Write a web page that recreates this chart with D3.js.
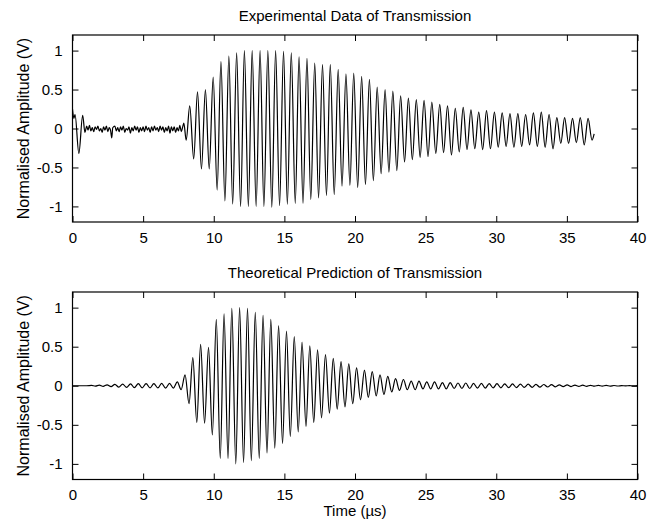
<!DOCTYPE html>
<html><head><meta charset="utf-8">
<script src="https://cdn.jsdelivr.net/npm/d3@7"></script>
<style>
body{margin:0;background:#fff}
svg text{font-family:"Liberation Sans",Arial,Helvetica,sans-serif;fill:#000}
</style>
</head><body>
<svg id="chart" width="657" height="522"></svg>
<script>
// ---------- tick labels ----------
const xTickValues = [0, 5, 10, 15, 20, 25, 30, 35, 40];
const xTickLabels = ["0", "5", "10", "15", "20", "25", "30", "35", "40"];
const yTickValues = [-1, -0.5, 0, 0.5, 1];
const yTickLabels = ["-1", "-0.5", "0", "0.5", "1"];
const titles = ["Experimental Data of Transmission", "Theoretical Prediction of Transmission"];
const yLabel = "Normalised Amplitude (V)";
const xLabel = "Time (\u00b5s)";

// ---------- experimental trace (µs, V) ----------
// lead-in ringing and noise floor before the burst
const expLeadT = [0, 0.10, 0.18, 0.45, 0.72, 0.88,
  1.0, 1.1, 1.2, 1.3, 1.4, 1.5, 1.6, 1.7, 1.8, 1.9, 2.0, 2.1, 2.2, 2.3, 2.4, 2.5, 2.6, 2.7, 2.78, 2.85,
  3.0, 3.1, 3.2, 3.3, 3.4, 3.5, 3.6, 3.7, 3.8, 3.9, 4.0, 4.1, 4.2, 4.3, 4.4, 4.5, 4.6, 4.7, 4.8, 4.9,
  5.0, 5.1, 5.2, 5.3, 5.4, 5.5, 5.6, 5.7, 5.8, 5.9, 6.0, 6.1, 6.2, 6.3, 6.4, 6.5, 6.6, 6.7, 6.8, 6.9,
  7.0, 7.1, 7.2, 7.3, 7.4, 7.5, 7.6, 7.7, 7.8, 7.88, 8.05];
const expLeadV = [0.25, 0.13, 0.18, -0.32, 0.17, -0.05,
  0.03, -0.02, 0.04, -0.03, 0.01, -0.04, 0.02, -0.01, 0.03, -0.03, 0.00, -0.05, 0.02, -0.02, 0.03, -0.04, 0.01, -0.03, -0.12, 0.01,
  0.03, -0.03, 0.01, -0.04, 0.02, -0.02, 0.03, -0.05, 0.00, -0.02, 0.02, -0.06, 0.01, -0.03, 0.03, -0.02, 0.02, -0.05, 0.01, -0.03,
  0.02, -0.04, 0.03, -0.02, 0.01, -0.05, 0.02, -0.03, 0.03, -0.02, 0.01, -0.04, 0.03, -0.02, 0.02, -0.05, 0.01, -0.03, 0.03, -0.06,
  0.02, -0.03, 0.02, -0.05, 0.01, -0.03, 0.04, -0.04, 0.02, 0.07, -0.15];
// positive peaks of the burst
const expMaxT = [8.30, 8.85, 9.41, 9.96, 10.51, 11.07, 11.62, 12.17, 12.72, 13.28, 13.83, 14.38, 14.94, 15.49, 16.04, 16.60,
  17.15, 17.70, 18.25, 18.81, 19.36, 19.91, 20.47, 21.02, 21.57, 22.13, 22.68, 23.23, 23.78, 24.34, 24.89, 25.44,
  26.00, 26.55, 27.10, 27.66, 28.21, 28.76, 29.31, 29.87, 30.42, 30.97, 31.53, 32.08, 32.63, 33.19, 33.74, 34.29,
  34.84, 35.40, 35.95, 36.50];
const expMaxV = [0.29, 0.47, 0.50, 0.66, 0.86, 0.93, 0.97, 1.00, 1.00, 1.00, 1.00, 1.00, 0.99, 0.97, 0.92, 0.90,
  0.84, 0.82, 0.82, 0.76, 0.70, 0.71, 0.67, 0.63, 0.53, 0.50, 0.48, 0.42, 0.39, 0.37, 0.36, 0.34,
  0.31, 0.29, 0.26, 0.27, 0.24, 0.21, 0.23, 0.21, 0.20, 0.19, 0.19, 0.18, 0.20, 0.21, 0.18, 0.14,
  0.14, 0.13, 0.14, 0.13];
// negative peaks of the burst
const expMinT = [8.58, 9.13, 9.68, 10.24, 10.79, 11.34, 11.90, 12.45, 13.00, 13.55, 14.11, 14.66, 15.21, 15.77, 16.32, 16.87,
  17.42, 17.98, 18.53, 19.08, 19.64, 20.19, 20.74, 21.30, 21.85, 22.40, 22.96, 23.51, 24.06, 24.61, 25.17, 25.72,
  26.27, 26.83, 27.38, 27.93, 28.48, 29.04, 29.59, 30.14, 30.70, 31.25, 31.80, 32.36, 32.91, 33.46, 34.02, 34.57,
  35.12, 35.67, 36.23, 36.78];
const expMinV = [-0.39, -0.52, -0.52, -0.79, -0.93, -0.97, -1.00, -1.00, -1.00, -1.00, -1.01, -0.99, -0.97, -0.96, -0.96, -0.91,
  -0.89, -0.86, -0.85, -0.74, -0.73, -0.76, -0.72, -0.67, -0.58, -0.56, -0.54, -0.43, -0.40, -0.37, -0.36, -0.32,
  -0.31, -0.34, -0.30, -0.27, -0.26, -0.27, -0.26, -0.24, -0.23, -0.24, -0.23, -0.21, -0.23, -0.24, -0.26, -0.19,
  -0.19, -0.18, -0.21, -0.15];
const expEndT = [36.93];
const expEndV = [-0.07];

// ---------- theoretical trace (µs, V) ----------
const theoLeadT = [0, 1.0];
const theoLeadV = [0, 0];
const theoMaxT = [1.35, 1.90, 2.45, 3.00, 3.55, 4.11, 4.66, 5.21, 5.76, 6.31, 6.87, 7.42,
  7.97, 8.52, 9.07, 9.63, 10.18, 10.73, 11.28, 11.83, 12.39, 12.94, 13.49, 14.04, 14.59, 15.15, 15.70, 16.25,
  16.80, 17.35, 17.91, 18.46, 19.01, 19.56, 20.11, 20.67, 21.22, 21.77, 22.32, 22.87, 23.43, 23.98, 24.53, 25.08,
  25.63, 26.19, 26.74, 27.29, 27.84, 28.39, 28.95, 29.50, 30.05, 30.60, 31.15, 31.71, 32.26, 32.81, 33.36, 33.91,
  34.47, 35.02, 35.57, 36.12, 36.67, 37.23, 37.78, 38.33, 38.88, 39.43, 39.99];
const theoMaxV = [0.004, 0.008, 0.012, 0.018, 0.022, 0.025, 0.027, 0.028, 0.028, 0.030, 0.030, 0.050,
  0.14, 0.36, 0.53, 0.49, 0.85, 0.92, 0.99, 1.00, 0.99, 0.94, 0.90, 0.85, 0.77, 0.70, 0.63, 0.56,
  0.51, 0.46, 0.40, 0.35, 0.31, 0.28, 0.23, 0.20, 0.18, 0.14, 0.12, 0.09, 0.08, 0.06, 0.06, 0.05,
  0.05, 0.04, 0.04, 0.035, 0.035, 0.030, 0.030, 0.028, 0.026, 0.025, 0.023, 0.021, 0.020, 0.018, 0.016, 0.014,
  0.012, 0.010, 0.008, 0.007, 0.006, 0.005, 0.004, 0.003, 0.002, 0.002, 0.001];
const theoMinT = [1.62, 2.17, 2.73, 3.28, 3.83, 4.38, 4.93, 5.49, 6.04, 6.59, 7.14, 7.69,
  8.25, 8.80, 9.35, 9.90, 10.46, 11.01, 11.56, 12.11, 12.66, 13.22, 13.77, 14.32, 14.87, 15.42, 15.98, 16.53,
  17.08, 17.63, 18.19, 18.74, 19.29, 19.84, 20.39, 20.94, 21.50, 22.05, 22.60, 23.15, 23.70, 24.26, 24.81, 25.36,
  25.91, 26.46, 27.02, 27.57, 28.12, 28.67, 29.22, 29.78, 30.33, 30.88, 31.43, 31.98, 32.54, 33.09, 33.64, 34.19,
  34.74, 35.30, 35.85, 36.40, 36.95, 37.50, 38.06, 38.61, 39.16, 39.71];
const theoMinV = [-0.004, -0.008, -0.012, -0.018, -0.022, -0.025, -0.027, -0.028, -0.028, -0.030, -0.030, -0.050,
  -0.23, -0.47, -0.48, -0.63, -0.93, -0.93, -1.00, -0.98, -0.96, -0.93, -0.86, -0.80, -0.74, -0.65, -0.59, -0.52,
  -0.47, -0.41, -0.35, -0.30, -0.27, -0.23, -0.18, -0.15, -0.13, -0.11, -0.08, -0.06, -0.05, -0.05, -0.04, -0.04,
  -0.04, -0.04, -0.035, -0.035, -0.035, -0.030, -0.030, -0.028, -0.026, -0.025, -0.023, -0.021, -0.020, -0.018, -0.016, -0.014,
  -0.012, -0.010, -0.008, -0.007, -0.006, -0.005, -0.004, -0.003, -0.002, -0.002];
const theoEndT = [40];
const theoEndV = [0];

// ---------- build point lists ----------
function zipPts(ts, vs) { return ts.map((t, i) => ({ t: t, v: vs[i] })); }
function buildSeries(parts) {
  const pts = [];
  parts.forEach(p => pts.push(...zipPts(p[0], p[1])));
  return pts.sort((a, b) => a.t - b.t);
}
const expSeries = buildSeries([[expLeadT, expLeadV], [expMaxT, expMaxV], [expMinT, expMinV], [expEndT, expEndV]]);
const theoSeries = buildSeries([[theoLeadT, theoLeadV], [theoMaxT, theoMaxV], [theoMinT, theoMinV], [theoEndT, theoEndV]]);

// ---------- drawing ----------
const svg = d3.select("#chart");
const FS = 15;
const FS_YLABEL = 16;
const left = 72.5, right = 637.5;
const panels = [
  { top: 35, bottom: 222, title: titles[0], data: expSeries },
  { top: 292, bottom: 479.5, title: titles[1], data: theoSeries }
];

panels.forEach((p, idx) => {
  const x = d3.scaleLinear().domain([0, 40]).range([left, right]);
  const y = d3.scaleLinear().domain([-1.2, 1.2]).range([p.bottom, p.top]);
  const g = svg.append("g");

  const cid = "clip" + idx;
  svg.append("clipPath").attr("id", cid).append("rect")
    .attr("x", left).attr("y", p.top).attr("width", right - left).attr("height", p.bottom - p.top);

  const line = d3.line().x(d => x(d.t)).y(d => y(d.v)).curve(d3.curveMonotoneX);
  g.append("path").datum(p.data).attr("d", line)
    .attr("clip-path", "url(#" + cid + ")")
    .attr("fill", "none").attr("stroke", "#000").attr("stroke-width", 1.2);

  const tl = 6;
  const axB = d3.axisBottom(x).tickValues(xTickValues).tickSizeInner(-tl).tickSizeOuter(0)
    .tickPadding(10).tickFormat((d, i) => xTickLabels[i]);
  const axT = d3.axisTop(x).tickValues(xTickValues).tickSizeInner(-tl).tickSizeOuter(0).tickFormat("");
  const axL = d3.axisLeft(y).tickValues(yTickValues).tickSizeInner(-tl).tickSizeOuter(0)
    .tickPadding(10).tickFormat((d, i) => yTickLabels[i]);
  const axR = d3.axisRight(y).tickValues(yTickValues).tickSizeInner(-tl).tickSizeOuter(0).tickFormat("");

  const gb = g.append("g").attr("transform", `translate(0,${p.bottom})`).call(axB);
  const gt = g.append("g").attr("transform", `translate(0,${p.top})`).call(axT);
  const gl = g.append("g").attr("transform", `translate(${left},0)`).call(axL);
  const gr = g.append("g").attr("transform", `translate(${right},0)`).call(axR);
  [gb, gt, gl, gr].forEach(a => {
    a.select(".domain").remove();
    a.selectAll(".tick line").attr("stroke", "#000").attr("stroke-width", 1);
    a.selectAll("text").attr("font-size", FS).attr("font-family", null).attr("fill", "#000");
  });
  gb.selectAll("text").attr("dy", "0.71em");

  g.append("rect").attr("x", left).attr("y", p.top).attr("width", right - left).attr("height", p.bottom - p.top)
    .attr("fill", "none").attr("stroke", "#000").attr("stroke-width", 1.2);

  g.append("text").attr("x", (left + right) / 2).attr("y", p.top - 14)
    .attr("text-anchor", "middle").attr("font-size", FS).text(p.title);

  g.append("text")
    .attr("transform", `translate(23,${(p.top + p.bottom) / 2}) rotate(-90)`)
    .attr("text-anchor", "middle").attr("dy", "0.35em").attr("font-size", FS_YLABEL).text(yLabel);
});

svg.append("text").attr("x", (left + right) / 2).attr("y", 516)
  .attr("text-anchor", "middle").attr("font-size", FS).text(xLabel);
</script>
</body></html>
